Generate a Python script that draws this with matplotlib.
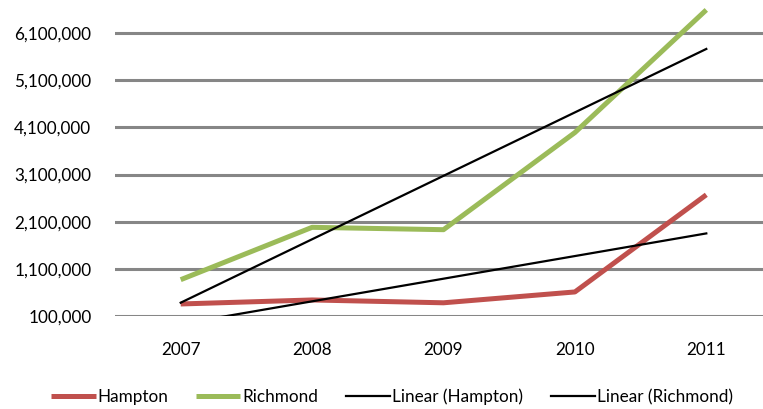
import numpy as np
import matplotlib
matplotlib.use("Agg")
import matplotlib.pyplot as plt
from matplotlib.ticker import FuncFormatter

years = ["2007", "2008", "2009", "2010", "2011"]
hampton = [355000, 440000, 380000, 610000, 2670000]
richmond = [870000, 1980000, 1930000, 3990000, 6590000]
yticks = [100000, 1100000, 2100000, 3100000, 4100000, 5100000, 6100000]

plt.rcParams['font.family'] = ['Lato', 'DejaVu Sans']

W, H = 763, 409
fig = plt.figure(figsize=(W/100, H/100), dpi=100)
left, right, top, bottom = 115, 772, 0, 316
ax = fig.add_axes([left/W, (H-bottom)/H, (right-left)/W, (bottom-top)/H])

x = np.arange(len(years))
ax.set_xlim(-0.5, len(years)-0.5)
ax.set_ylim(100000, 6800000)

for v in yticks:
    ax.axhline(v, color='#868686', lw=2.2, zorder=1)

ax.plot(x, hampton, color='#C0504D', lw=3.6, label='Hampton', zorder=3, solid_capstyle='butt')
ax.plot(x, richmond, color='#9BBB59', lw=3.6, label='Richmond', zorder=3, solid_capstyle='butt')

ch = np.polyfit(x, hampton, 1)
cr = np.polyfit(x, richmond, 1)
ax.plot(x, np.polyval(ch, x), color='black', lw=1.6, label='Linear (Hampton)', zorder=4)
ax.plot(x, np.polyval(cr, x), color='black', lw=1.6, label='Linear (Richmond)', zorder=4)

ax.set_yticks(yticks)
ax.yaxis.set_major_formatter(FuncFormatter(lambda v, p: f"{int(v):,}"))
ax.set_xticks(x)
ax.set_xticklabels(years)
ax.tick_params(axis='y', length=0, pad=17, labelsize=12.3, colors='black')
ax.tick_params(axis='x', length=0, pad=18.5, labelsize=12.3, colors='black')
for s in ax.spines.values():
    s.set_visible(False)
ax.set_facecolor('none')

fig.legend(loc='center', bbox_to_anchor=(0.514, 0.03), ncol=4, frameon=False,
           fontsize=12.3, handlelength=2.6, handletextpad=0.12, columnspacing=1.6)

fig.savefig('out.png', dpi=100)
